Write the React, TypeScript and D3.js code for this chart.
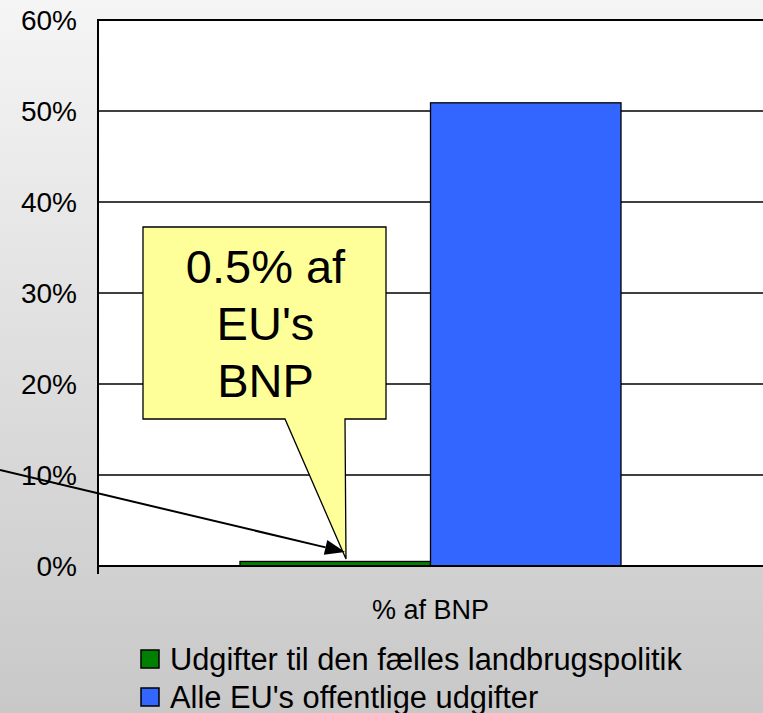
import React from "react";
import * as d3 from "d3";

const categories = ["% af BNP"];
const seriesNames = ["Udgifter til den fælles landbrugspolitik", "Alle EU's offentlige udgifter"];
const seriesColors = ["#008000", "#3366ff"];
const seriesValues = [[0.005], [0.509]];
const yTicks = [0, 0.1, 0.2, 0.3, 0.4, 0.5, 0.6];
const calloutLines = ["0.5% af", "EU's", "BNP"];

const W = 763;
const H = 713;
const FONT = "Arial, 'Liberation Sans', Helvetica, sans-serif";

export default function App() {
  const left = 98, right = 763, top = 20, bottom = 566;
  const y = d3.scaleLinear().domain([0, 0.6]).range([bottom, top]);
  const x0 = d3.scaleBand<string>().domain(categories).range([left, right]).paddingInner(0).paddingOuter(0.3727);
  const x1 = d3.scaleBand<string>().domain(seriesNames).range([0, x0.bandwidth()]).padding(0);
  const fmt = d3.format(".0%");

  // callout geometry
  const box = { x: 143, y: 227, w: 243, h: 192 };
  const tip = { x: 346, y: 559 };
  const ptrL = 285, ptrR = 345;

  // arrow
  const a0 = { x: 0, y: 470 };
  const a1 = { x: 345, y: 552 };
  const ang = Math.atan2(a1.y - a0.y, a1.x - a0.x);
  const ah = 20, aw = 7.5;
  const bx = a1.x - ah * Math.cos(ang), by = a1.y - ah * Math.sin(ang);
  const head = [
    [a1.x, a1.y],
    [bx + aw * Math.sin(ang), by - aw * Math.cos(ang)],
    [bx - aw * Math.sin(ang), by + aw * Math.cos(ang)],
  ];

  return (
    <div style={{ position: "fixed", left: 0, top: 0, width: W, height: H }}>
      <svg width={W} height={H} style={{ display: "block" }} fontFamily={FONT}>
        <defs>
          <linearGradient id="bg" x1="0" y1="0" x2="0" y2="1">
            <stop offset="0" stopColor="#f5f5f5" />
            <stop offset="1" stopColor="#c8c8c8" />
          </linearGradient>
        </defs>
        <rect x={0} y={0} width={W} height={H} fill="url(#bg)" />
        <rect x={left} y={top} width={right - left + 2} height={bottom - top} fill="#ffffff" stroke="#000" strokeWidth={2} />
        {yTicks.filter((t) => t > 0 && t < 0.6).map((t) => (
          <line key={t} x1={left} x2={right + 2} y1={y(t)} y2={y(t)} stroke="#000" strokeWidth={1.5} />
        ))}
        {yTicks.map((t) => (
          <text key={"l" + t} x={77} y={y(t)} dy="0.36em" textAnchor="end" fontSize={28} fill="#000">
            {fmt(t)}
          </text>
        ))}
        {categories.map((c, ci) => (
          <g key={c} transform={`translate(${x0(c)},0)`}>
            {seriesNames.map((s, si) => (
              <rect
                key={s}
                x={x1(s)}
                y={y(seriesValues[si][ci])}
                width={x1.bandwidth()}
                height={bottom - y(seriesValues[si][ci])}
                fill={seriesColors[si]}
                stroke="#000"
                strokeWidth={1.3}
              />
            ))}
          </g>
        ))}
        <line x1={left} x2={right + 2} y1={bottom} y2={bottom} stroke="#000" strokeWidth={2} />
        <line x1={left} x2={left} y1={top} y2={bottom + 8} stroke="#000" strokeWidth={2} />
        {categories.map((c) => (
          <text key={c} x={(x0(c) as number) + x0.bandwidth() / 2} y={619} textAnchor="middle" fontSize={27} fill="#000">
            {c}
          </text>
        ))}
        {/* callout */}
        <path
          d={`M${box.x},${box.y} H${box.x + box.w} V${box.y + box.h} H${ptrR} L${tip.x},${tip.y} L${ptrL},${box.y + box.h} H${box.x} Z`}
          fill="#ffff99"
          stroke="#000"
          strokeWidth={1.3}
        />
        {calloutLines.map((l, i) => (
          <text key={l} x={box.x + box.w / 2 + 1} y={283 + i * 57} textAnchor="middle" fontSize={47} fill="#000">
            {l}
          </text>
        ))}
        {/* arrow */}
        <line x1={a0.x} y1={a0.y} x2={bx} y2={by} stroke="#000" strokeWidth={2} />
        <polygon points={head.map((p) => p.join(",")).join(" ")} fill="#000" />
        {/* legend */}
        {seriesNames.map((s, i) => (
          <g key={s} transform={`translate(141,${650 + i * 38})`}>
            <rect x={0} y={0} width={18} height={18} fill={seriesColors[i]} stroke="#000" strokeWidth={1.5} />
            <text x={29} y={19.5} fontSize={30.8} fill="#000">
              {s}
            </text>
          </g>
        ))}
      </svg>
    </div>
  );
}
